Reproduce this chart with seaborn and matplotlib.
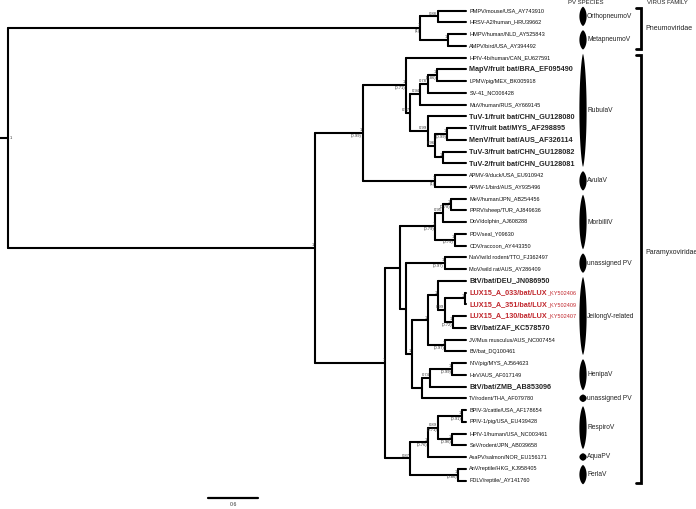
import numpy as np
import pandas as pd
import matplotlib
matplotlib.use("Agg")
import matplotlib.pyplot as plt
import seaborn as sns

# tip labels, top to bottom
leaves = [
    "PMPV/mouse/USA_AY743910",
    "HRSV-A2/human_HRU39662",
    "HMPV/human/NLD_AY525843",
    "AMPV/bird/USA_AY394492",
    "HPIV-4b/human/CAN_EU627591",
    "MapV/fruit bat/BRA_EF095490",
    "LPMV/pig/MEX_BK005918",
    "SV-41_NC006428",
    "MuV/human/RUS_AY669145",
    "TuV-1/fruit bat/CHN_GU128080",
    "TiV/fruit bat/MYS_AF298895",
    "MenV/fruit bat/AUS_AF326114",
    "TuV-3/fruit bat/CHN_GU128082",
    "TuV-2/fruit bat/CHN_GU128081",
    "APMV-9/duck/USA_EU910942",
    "APMV-1/bird/AUS_AY935496",
    "MeV/human/JPN_AB254456",
    "PPRV/sheep/TUR_AJ849636",
    "DoV/dolphin_AJ608288",
    "PDV/seal_Y09630",
    "CDV/raccoon_AY443350",
    "NaV/wild rodent/TTO_FJ362497",
    "MoV/wild rat/AUS_AY286409",
    "BtV/bat/DEU_JN086950",
    "LUX15_A_033/bat/LUX_KY502406",
    "LUX15_A_351/bat/LUX_KY502409",
    "LUX15_A_130/bat/LUX_KY502407",
    "BtV/bat/ZAF_KC578570",
    "JV/Mus musculus/AUS_NC007454",
    "BV/bat_DQ100461",
    "NiV/pig/MYS_AJ564623",
    "HeV/AUS_AF017149",
    "BtV/bat/ZMB_AB853096",
    "TV/rodent/THA_AF079780",
    "BPIV-3/cattle/USA_AF178654",
    "PPIV-1/pig/USA_EU439428",
    "HPIV-1/human/USA_NC003461",
    "SeV/rodent/JPN_AB039658",
    "AsaPV/salmon/NOR_EU156171",
    "AnV/reptile/HKG_KJ958405",
    "FDLV/reptile/_AY141760",
]
bold_tips = [5, 9, 10, 11, 12, 13, 23, 27, 32]
red_tips = [24, 25, 26]

# internal nodes: children (leaf index or node id), height (subst./site), posterior labels
node_ids = ["PH", "HA", "Pneumo", "MapLP", "n078", "n094", "TiMen", "Tu32", "TiTu", "TuV",
            "n097", "Rubula", "Avula", "RubAvu", "MePP", "MeDo", "PdCd", "Morbilli", "NaMo", "L351",
            "L130", "L099", "DEU", "JVBV", "Jeilong", "NiHe", "n074", "HenTV", "C", "B",
            "A", "BP", "HS", "Respiro", "RespAsa", "AF", "Bottom", "Q", "Paramyxo", "Root"]
node_children = [(0, 1), (2, 3), ("PH", "HA"), (5, 6), ("MapLP", 7), ("n078", 8), (10, 11), (12, 13),
                 ("TiMen", "Tu32"), (9, "TiTu"), ("n094", "TuV"), (4, "n097"), (14, 15),
                 ("Rubula", "Avula"), (16, 17), ("MePP", 18), (19, 20), ("MeDo", "PdCd"), (21, 22),
                 (24, 25), (26, 27), ("L351", "L130"), (23, "L099"), (28, 29), ("DEU", "JVBV"),
                 (30, 31), ("NiHe", 32), ("n074", 33), ("Jeilong", "HenTV"), ("NaMo", "C"),
                 ("Morbilli", "B"), (34, 35), (36, 37), ("BP", "HS"), ("Respiro", 38), (39, 40),
                 ("RespAsa", "AF"), ("A", "Bottom"), ("RubAvu", "Q"), ("Pneumo", "Paramyxo")]
node_heights = [0.34, 0.22, 0.55, 0.35, 0.46, 0.55, 0.23, 0.28, 0.37, 0.46,
                0.67, 0.72, 0.37, 1.24, 0.18, 0.28, 0.14, 0.37, 0.26, 0.02,
                0.16, 0.25, 0.34, 0.25, 0.46, 0.17, 0.43, 0.53, 0.65, 0.72,
                0.79, 0.05, 0.17, 0.34, 0.46, 0.10, 0.67, 0.97, 1.82, 5.50]
post = ["0.88", "1", "1", "1", "0.78", "0.94", "1", "1", "0.96", "0.99",
        "0.97", "1", "1", "1", "1", "0.95", "1", "1", "1", "1",
        "1", "0.99", "1", "1", "1", "1", "0.74", "", "1", "",
        "", "1", "1", "0.89", "1", "1", "0.87", "1", "1", "1"]
post2 = ["", "", "(1)", "(0.86)", "", "", "(0.99)", "", "", "",
         "", "(0.71)", "(1)", "(0.99)", "(0.78)", "", "(0.79)", "(0.79)", "(0.97)", "",
         "(0.72)", "", "", "(0.97)", "", "(0.99)", "", "", "", "",
         "", "(0.91)", "(0.96)", "(0.71)", "(0.76)", "(0.86)", "", "", "", ""]

genera = ["OrthopneumoV", "MetapneumoV", "RubulaV", "AvulaV", "MorbilliV", "unassigned PV",
          "JeilongV-related", "HenipaV", "unassigned PV", "RespiroV", "AquaPV", "FerlaV"]
genus_first = [0, 2, 4, 14, 16, 21, 23, 30, 33, 34, 38, 39]
genus_last = [1, 3, 13, 15, 20, 22, 29, 32, 33, 37, 38, 40]

families = ["Pneumoviridae", "Paramyxoviridae"]
family_first = [0, 4]
family_last = [3, 40]

scale_len = 0.6

# ---- layout -------------------------------------------------------------
W, H = 696, 509
ppu = 83.33          # pixels per substitution unit
x0_px = 8            # root position
row_px = 11.75
y0_px = 10.5

def dx(px):
    return px / ppu

def dy(px):
    return px / row_px

root_h = node_heights[-1]
xpos, ypos = {}, {}
for i in range(len(leaves)):
    xpos[i] = root_h
    ypos[i] = i
for nid, ch, h in zip(node_ids, node_children, node_heights):
    xpos[nid] = root_h - h
    ypos[nid] = (ypos[ch[0]] + ypos[ch[1]]) / 2

rows = []
k = 0
for nid, ch in zip(node_ids, node_children):
    rows += [(k, xpos[nid], ypos[ch[0]]), (k, xpos[nid], ypos[ch[1]])]
    k += 1
    for c in ch:
        rows += [(k, xpos[nid], ypos[c]), (k, xpos[c], ypos[c])]
        k += 1
rows += [(k, -dx(x0_px), ypos["Root"]), (k, 0, ypos["Root"])]
seg = pd.DataFrame(rows, columns=["seg", "x", "y"])

sns.set_style("white")
plt.rcParams["font.family"] = ["Liberation Sans", "DejaVu Sans"]

fig = plt.figure(figsize=(W / 100, H / 100), dpi=100)
ax = fig.add_axes([0, 0, 1, 1])
sns.lineplot(data=seg, x="x", y="y", units="seg", estimator=None, sort=False,
             color="black", linewidth=1.5, ax=ax)
ax.set_xlim(-dx(x0_px), dx(W - x0_px))
ax.set_ylim(dy(H - y0_px), -dy(y0_px))
ax.set_axis_off()

red = "#c1272d"
# tip labels
for i, name in enumerate(leaves):
    tx = root_h + dx(3)
    if i in red_tips:
        main, acc = name.rsplit("_", 1)
        t = ax.text(tx, i, main, fontsize=5.2, fontweight="bold", color=red, va="center", ha="left")
        ax.annotate("_" + acc, xy=(1, 0.12), xycoords=t, fontsize=4.0, color=red,
                    va="bottom", ha="left")
    elif i in bold_tips:
        ax.text(tx, i, name, fontsize=5.2, fontweight="bold", va="center", ha="left")
    else:
        ax.text(tx, i, name, fontsize=4.0, va="center", ha="left", color="#111111")

# posterior labels
for nid, p1, p2 in zip(node_ids, post, post2):
    x, y = xpos[nid], ypos[nid]
    if nid == "Root":
        ax.text(x + dx(2), y, p1, fontsize=3.0, color="#333333", ha="left", va="center")
        continue
    if p1:
        ax.text(x - dx(1), y - dy(0.8), p1, fontsize=3.0, color="#333333", ha="right", va="bottom")
    if p2:
        ax.text(x - dx(1), y + dy(0.8), p2, fontsize=3.0, color="#333333", ha="right", va="top")

# genus spindles
cx = dx(583 - x0_px)
t = np.linspace(-1, 1, 80)
for g, a, b in zip(genera, genus_first, genus_last):
    cy = (a + b) / 2
    hh = (b - a) / 2 + 0.32
    w = dx(3.6) * (1 - t ** 2) ** 0.7
    xs = np.concatenate([cx + w, (cx - w)[::-1]])
    ys = np.concatenate([cy + hh * t, (cy + hh * t)[::-1]])
    ax.fill(xs, ys, color="black", lw=0)
    ax.text(dx(587 - x0_px), cy, g, fontsize=4.8, va="center", ha="left", color="#222222")

# family brackets
bx = dx(641 - x0_px)
for f, a, b in zip(families, family_first, family_last):
    top, bot = a - 0.2, b + 0.25
    ax.plot([bx - dx(5), bx, bx, bx - dx(5)], [top, top, bot, bot], color="black", lw=2.0,
            solid_joinstyle="miter")
    ly = (top + bot) / 2 if b - a < 10 else dy(252 - y0_px)
    ax.text(bx + dx(4), ly, f, fontsize=5.0, va="center", ha="left", color="#222222")

# column headers
ax.text(dx(586 - x0_px), -dy(y0_px - 3), "PV SPECIES", fontsize=4.3, ha="center", va="center",
        color="#222222")
ax.text(dx(667 - x0_px), -dy(y0_px - 3), "VIRUS FAMILY", fontsize=4.3, ha="center", va="center",
        color="#222222")

# scale bar
sx = dx(208 - x0_px)
sy = dy(498 - y0_px)
ax.plot([sx, sx + scale_len], [sy, sy], color="black", lw=1.6)
ax.text(sx + scale_len / 2, sy + dy(4), "0.6", fontsize=3.8, ha="center", va="top", color="#333333")

fig.savefig("out.png", dpi=100)
